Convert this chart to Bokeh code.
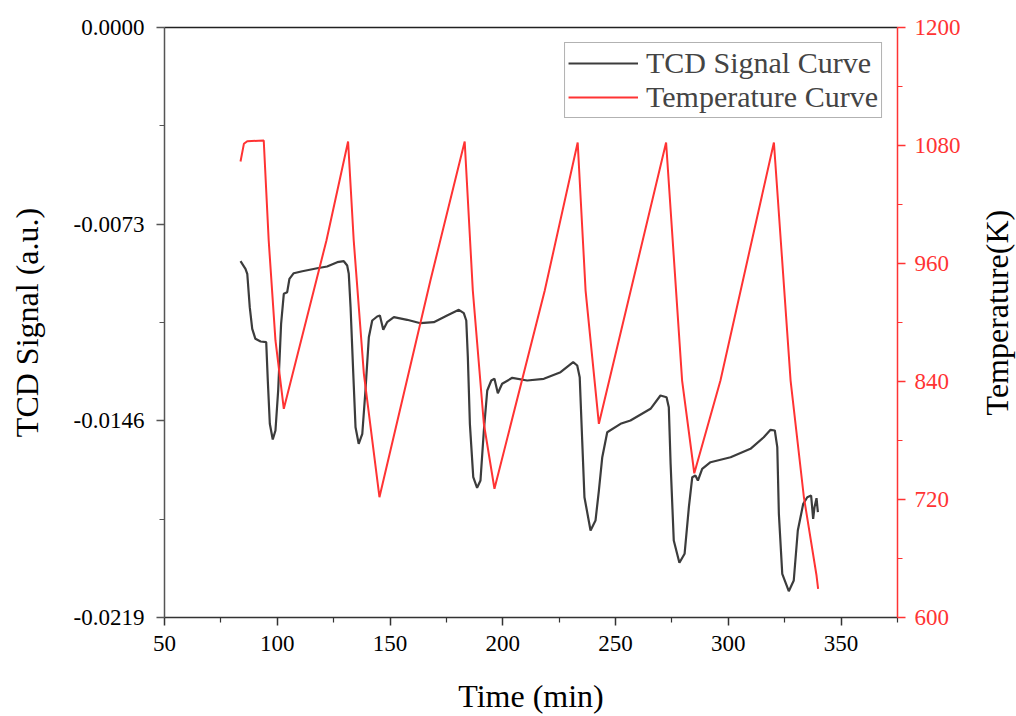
import math
from bokeh.plotting import figure
from bokeh.layouts import row
from bokeh.models import (Range1d, LinearAxis, FixedTicker, NumeralTickFormatter,
                          Legend, LegendItem, Label)
from bokeh.embed import file_html
from bokeh.resources import INLINE

# ---- data ----
time_tcd = [83.7, 85.9, 86.7, 87.8, 88.9, 90.3, 92.6, 95.1, 95.8, 96.7, 98.0, 99.2, 100.4,
            101.7, 102.9, 104.4, 105.4, 107.3, 111.1, 117.7, 122.1, 126.6, 129.5, 131.0,
            131.7, 132.5, 133.7, 134.7, 136.1, 137.7, 139.1, 140.6, 142.1, 144.3, 145.5,
            147.0, 148.7, 151.7, 157.6, 163.5, 169.4, 175.3, 180.5, 182.7, 183.8, 184.5,
            185.4, 186.9, 188.6, 190.1, 191.6, 193.1, 194.9, 196.3, 197.8, 199.7, 204.2,
            210.8, 218.2, 225.6, 231.2, 233.0, 234.1, 235.2, 236.2, 238.9, 241.1, 242.6,
            244.1, 246.3, 252.2, 256.6, 265.5, 269.9, 272.6, 273.6, 274.4, 275.8, 278.3,
            280.6, 282.5, 284.0, 285.4, 286.5, 288.4, 292.1, 301.0, 309.8, 315.7, 318.7,
            320.6, 321.7, 322.4, 323.9, 326.8, 329.0, 330.8, 333.2, 335.0, 336.7, 337.6,
            338.2, 339.1, 339.7]
tcd_signal = [-0.008675, -0.008957, -0.009142, -0.010382, -0.011184, -0.011555, -0.011655,
              -0.011681, -0.013103, -0.014711, -0.015293, -0.014959, -0.013474, -0.010998,
              -0.009885, -0.009825, -0.009328, -0.009120, -0.009046, -0.008935, -0.008871,
              -0.008712, -0.008675, -0.008834, -0.009142, -0.010382, -0.012854, -0.014836,
              -0.015453, -0.015081, -0.013474, -0.011496, -0.010876, -0.010727, -0.010690,
              -0.011221, -0.010939, -0.010753, -0.010850, -0.010976, -0.010939, -0.010690,
              -0.010479, -0.010605, -0.010876, -0.012238, -0.014711, -0.016693, -0.017086,
              -0.016815, -0.014959, -0.013474, -0.013103, -0.013040, -0.013574, -0.013226,
              -0.013003, -0.013103, -0.013040, -0.012795, -0.012424, -0.012546, -0.012981,
              -0.015330, -0.017435, -0.018671, -0.018300, -0.017186, -0.015950, -0.015022,
              -0.014711, -0.014588, -0.014154, -0.013660, -0.013723, -0.014094, -0.016195,
              -0.019042, -0.019870, -0.019536, -0.017806, -0.016693, -0.016629, -0.016815,
              -0.016381, -0.016136, -0.015950, -0.015638, -0.015208, -0.014933, -0.014959,
              -0.015579, -0.018051, -0.020278, -0.020924, -0.020527, -0.018671, -0.017680,
              -0.017435, -0.017372, -0.018237, -0.017806, -0.017472, -0.017992]

time_temp = [83.7, 85.2, 86.7, 94.0, 96.2, 99.2, 102.9, 121.8, 131.4, 133.9, 138.4, 145.3,
             167.9, 183.1, 186.7, 191.6, 196.3, 218.6, 233.2, 236.7, 242.6, 272.4, 279.5,
             284.9, 296.5, 320.2, 327.6, 333.5, 339.1, 339.8]
temperature = [1063.7, 1081.7, 1084.4, 1085.1, 983.4, 881.7, 812.2, 983.4, 1084.1, 983.4,
               847.8, 722.3, 942.7, 1084.1, 932.5, 797.0, 730.9, 932.5, 1083.1, 932.5,
               797.0, 1083.1, 841.0, 746.7, 841.0, 1083.1, 841.0, 722.3, 642.7, 629.2]

x_ticks = [50, 100, 150, 200, 250, 300, 350]
x_minor = [75, 125, 175, 225, 275, 325, 375]
y_ticks = [-0.0219, -0.0146, -0.0073, 0.0]
y_minor = [-0.01825, -0.01095, -0.00365]
t_ticks = [600, 720, 840, 960, 1080, 1200]
t_minor = [660, 780, 900, 1020, 1140]

FONT = "Liberation Serif"
RED = "#ff3333"
GRAY = "#3c3c3c"

p = figure(width=975, height=716, output_backend="svg", toolbar_location=None,
           x_range=Range1d(50, 375), y_range=Range1d(-0.0219, 0.0),
           min_border_left=164, min_border_right=78, min_border_top=27,
           min_border_bottom=99, x_axis_location=None, y_axis_location=None)
p.extra_y_ranges = {"temp": Range1d(600, 1200)}
p.grid.visible = False
p.outline_line_color = None
p.background_fill_color = "white"
p.border_fill_color = "white"

def style(ax, color="black", line_color="black"):
    ax.major_tick_in = 0
    ax.minor_tick_in = 0
    ax.major_tick_out = 8
    ax.minor_tick_out = 5
    ax.axis_line_color = line_color
    ax.major_tick_line_color = line_color
    ax.minor_tick_line_color = line_color
    ax.axis_line_width = 1.5
    ax.major_tick_line_width = 1.5
    ax.minor_tick_line_width = 1.2
    ax.major_label_text_font = FONT
    ax.major_label_text_font_size = "23px"
    ax.major_label_text_color = color
    ax.axis_label_text_font = FONT
    ax.axis_label_text_font_size = "32px"
    ax.axis_label_text_font_style = "normal"
    ax.axis_label_text_color = "black"

xaxis = LinearAxis(ticker=FixedTicker(ticks=x_ticks, minor_ticks=x_minor),
                   axis_label="Time (min)")
style(xaxis, line_color="#333333")
xaxis.major_label_standoff = 10
xaxis.axis_label_standoff = 24
p.add_layout(xaxis, "below")

yaxis = LinearAxis(ticker=FixedTicker(ticks=y_ticks, minor_ticks=y_minor),
                   formatter=NumeralTickFormatter(format="0.0000"),
                   axis_label="TCD Signal (a.u.)")
style(yaxis, line_color="#555555")
yaxis.major_label_standoff = 12
yaxis.axis_label_standoff = 26
p.add_layout(yaxis, "left")

raxis = LinearAxis(y_range_name="temp",
                   ticker=FixedTicker(ticks=t_ticks, minor_ticks=t_minor))
style(raxis, color=RED, line_color=RED)
raxis.major_label_standoff = 9
p.add_layout(raxis, "right")

taxis = LinearAxis(ticker=FixedTicker(ticks=[]), major_label_text_font_size="0px")
taxis.axis_line_color = "#222222"
taxis.axis_line_width = 1.5
taxis.major_tick_line_color = None
taxis.minor_tick_line_color = None
p.add_layout(taxis, "above")

r1 = p.line(time_tcd, tcd_signal, line_color=GRAY, line_width=2.2)
r2 = p.line(time_temp, temperature, line_color=RED, line_width=2, y_range_name="temp")

legend = Legend(items=[LegendItem(label="TCD Signal Curve", renderers=[r1]),
                       LegendItem(label="Temperature Curve", renderers=[r2])],
                location="top_right")
legend.label_text_font = FONT
legend.label_text_font_size = "30px"
legend.glyph_width = 70
legend.glyph_height = 30
legend.label_standoff = 8
legend.spacing = 0
legend.padding = 3
legend.margin = 15
legend.border_line_color = "#666666"
legend.border_line_width = 1.2
legend.background_fill_alpha = 1
legend.label_height = 30
p.add_layout(legend)

# narrow strip to the right carrying the temperature-axis title (reads bottom to top)
side = figure(width=41, height=716, output_backend="svg", toolbar_location=None,
              x_range=Range1d(0, 41), y_range=Range1d(0, 716),
              min_border=0, x_axis_location=None, y_axis_location=None)
side.grid.visible = False
side.outline_line_color = None
side.border_fill_color = "white"
side.background_fill_color = "white"
side.add_layout(Label(x=21, y=370, text="Temperature(K)", angle=math.pi / 2,
                      text_align="center", text_baseline="middle",
                      text_font=FONT, text_font_size="32px", text_color="black"))

layout = row(p, side, spacing=0)
open("out.html", "w").write(file_html(layout, INLINE))
